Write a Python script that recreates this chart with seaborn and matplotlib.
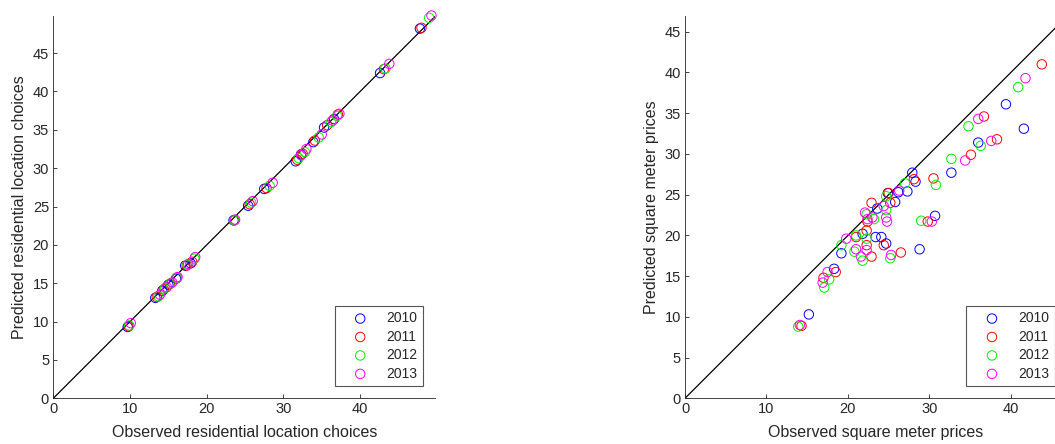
import matplotlib
matplotlib.use('Agg')
import matplotlib.pyplot as plt
import seaborn as sns
import pandas as pd

# Years and colours (MATLAB style b, r, g, m)
years = ['2010', '2011', '2012', '2013']
year_colors = ['#0000ff', '#ff0000', '#00f000', '#ff00ff']

# Left panel: observed vs predicted residential location choices
loc_obs = {
    '2010': [9.7, 13.3, 14.2, 15.0, 16.0, 17.2, 17.9, 23.5, 25.4, 27.5, 31.6, 32.3, 33.9, 35.3, 36.6, 42.6, 47.8],
    '2011': [9.8, 13.5, 14.4, 15.2, 16.1, 17.4, 18.1, 23.6, 25.6, 27.8, 31.8, 32.5, 34.1, 35.7, 37.1, 43.1, 48.0],
    '2012': [9.9, 13.7, 14.6, 15.3, 16.1, 17.5, 18.4, 23.6, 25.8, 28.2, 32.0, 32.8, 34.6, 36.2, 37.0, 43.3, 49.0],
    '2013': [10.1, 13.9, 14.8, 15.5, 16.2, 17.6, 18.5, 23.7, 26.0, 28.6, 32.3, 33.0, 35.0, 36.4, 37.3, 43.8, 49.3],
}
loc_pred = {
    '2010': [9.3, 13.1, 14.0, 14.8, 15.6, 17.3, 17.6, 23.2, 25.1, 27.3, 30.9, 31.8, 33.4, 35.3, 36.4, 42.4, 48.2],
    '2011': [9.4, 13.2, 14.2, 14.9, 15.7, 17.3, 17.8, 23.2, 25.3, 27.4, 31.1, 31.9, 33.6, 35.6, 37.0, 42.9, 48.3],
    '2012': [9.5, 13.3, 14.4, 15.0, 15.7, 17.4, 18.2, 23.2, 25.5, 27.7, 31.3, 32.1, 34.0, 36.0, 36.8, 43.0, 49.6],
    '2013': [9.8, 13.5, 14.5, 15.1, 15.8, 17.5, 18.4, 23.3, 25.7, 28.1, 31.7, 32.5, 34.4, 36.2, 37.1, 43.6, 49.9],
}

# Right panel: observed vs predicted square meter prices
price_obs = {
    '2010': [15.2, 18.3, 19.2, 21.8, 23.4, 24.1, 24.7, 28.8, 30.7, 23.6, 24.9, 25.8, 26.2, 27.3, 27.9, 28.3, 32.7, 36.0, 39.4, 41.6],
    '2011': [14.3, 17.0, 18.5, 21.0, 22.3, 22.3, 22.9, 22.9, 24.4, 25.0, 25.2, 26.5, 28.1, 30.5, 29.8, 35.1, 36.7, 38.3, 43.8, 22.4],
    '2012': [13.9, 17.1, 17.7, 19.2, 20.8, 21.8, 22.3, 22.3, 23.2, 24.7, 24.7, 25.2, 27.0, 29.0, 30.8, 32.7, 34.8, 36.3, 40.9, 21.0],
    '2013': [14.1, 16.9, 17.5, 19.8, 21.0, 21.6, 22.1, 22.4, 23.0, 24.4, 24.7, 24.8, 25.3, 26.3, 30.3, 34.4, 36.0, 37.6, 41.8, 22.3],
}
price_pred = {
    '2010': [10.3, 15.9, 17.8, 20.2, 19.8, 19.8, 19.0, 18.3, 22.4, 23.3, 25.2, 24.1, 25.3, 25.4, 27.7, 26.6, 27.7, 31.4, 36.1, 33.1],
    '2011': [8.9, 14.8, 15.5, 19.8, 20.6, 18.8, 17.4, 24.0, 18.8, 25.2, 24.0, 17.9, 26.9, 27.0, 21.7, 29.9, 34.6, 31.8, 41.0, 21.7],
    '2012': [8.8, 13.6, 14.6, 18.8, 18.0, 16.9, 22.6, 19.6, 22.0, 24.8, 23.1, 17.2, 26.4, 21.8, 26.2, 29.4, 33.4, 31.0, 38.2, 20.0],
    '2013': [9.0, 14.2, 15.5, 19.6, 18.3, 17.4, 22.8, 22.0, 22.2, 23.6, 22.2, 21.7, 17.6, 25.5, 21.7, 29.2, 34.3, 31.6, 39.3, 18.2],
}

sns.set_style('ticks')
plt.rcParams['font.family'] = ['Liberation Sans', 'DejaVu Sans']
axis_color = '#262626'

fig = plt.figure(figsize=(10.55, 4.44), dpi=100)
ax_left = fig.add_axes([0.0505, 0.1029, 0.3621, 0.8604])
ax_right = fig.add_axes([0.6493, 0.1029, 0.3621, 0.8604])


def draw_panel(ax, obs, pred, lim, xlabel, ylabel):
    for year, color in zip(years, year_colors):
        df = pd.DataFrame({'observed': obs[year], 'predicted': pred[year]})
        sns.scatterplot(data=df, x='observed', y='predicted', ax=ax, marker='o', s=46,
                        facecolor='none', edgecolor=color, linewidth=0.7, label=year,
                        clip_on=False, zorder=3)
    # 45 degree reference line
    ax.axline((0, 0), slope=1, color='black', linewidth=0.9, zorder=2)
    ax.set_xlim(0, lim)
    ax.set_ylim(0, lim)
    ax.set_xticks([0, 10, 20, 30, 40])
    ax.set_yticks(range(0, 50, 5))
    ax.set_xlabel(xlabel, fontsize=11.5, color=axis_color, labelpad=6)
    ax.set_ylabel(ylabel, fontsize=11.5, color=axis_color, labelpad=4)
    ax.tick_params(direction='in', length=3, width=0.6, colors=axis_color, labelsize=10.5, pad=3)
    sns.despine(ax=ax)
    for side in ['left', 'bottom']:
        ax.spines[side].set_color(axis_color)
        ax.spines[side].set_linewidth(0.6)
    leg = ax.legend(loc='lower right', bbox_to_anchor=(0.9686, 0.032), borderaxespad=0,
                    fontsize=10, frameon=True, fancybox=False, framealpha=1,
                    edgecolor='#555555', handlelength=2.9, handletextpad=0.45,
                    labelspacing=0.32, borderpad=0.4)
    leg.get_frame().set_linewidth(0.8)
    for text in leg.get_texts():
        text.set_color(axis_color)


draw_panel(ax_left, loc_obs, loc_pred, 49.8,
           'Observed residential location choices', 'Predicted residential location choices')
draw_panel(ax_right, price_obs, price_pred, 46.9,
           'Observed square meter prices', 'Predicted square meter prices')

plt.savefig('out.png', dpi=100)
plt.close()
